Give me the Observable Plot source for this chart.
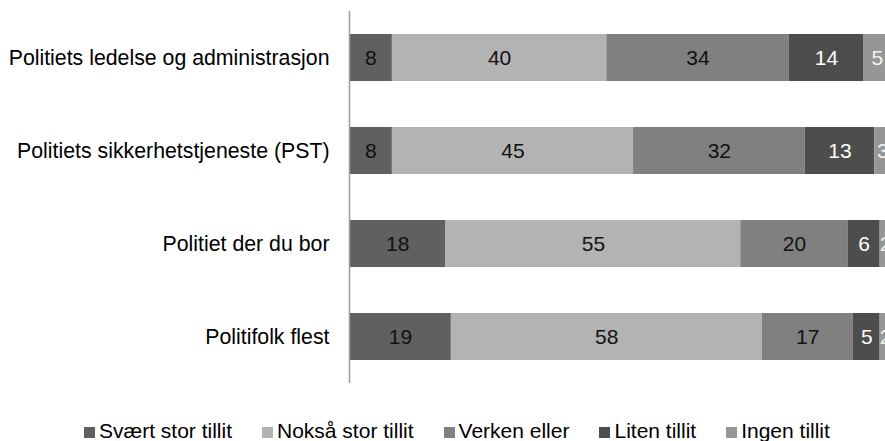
<!DOCTYPE html>
<html>
<head>
<meta charset="utf-8">
<script src="https://cdn.jsdelivr.net/npm/d3@7"></script>
<script src="https://cdn.jsdelivr.net/npm/@observablehq/plot@0.6"></script>
<style>
  html, body { margin: 0; padding: 0; background: #fff; }
  body { width: 885px; height: 441px; overflow: hidden; font-family: "Liberation Sans", Arial, sans-serif; }
  #legend { display: flex; align-items: center; height: 41px; box-sizing: border-box; padding-left: 84px; padding-top: 20px; font-size: 21px; line-height: 24px; color: #000; }
  #legend .item { display: flex; align-items: center; margin-right: 30px; white-space: nowrap; }
  #legend .sw { width: 11px; height: 11px; margin-right: 4px; position: relative; top: 2px; }
</style>
</head>
<body>
<div id="chart"></div>
<div id="legend"></div>
<script>
const categories = [
  "Politiets ledelse og administrasjon",
  "Politiets sikkerhetstjeneste (PST)",
  "Politiet der du bor",
  "Politifolk flest"
];
const series = ["Svært stor tillit", "Nokså stor tillit", "Verken eller", "Liten tillit", "Ingen tillit"];
const svaertStor = [8, 8, 18, 19];
const noksaStor  = [40, 45, 55, 58];
const verkenEller = [34, 32, 20, 17];
const liten = [14, 13, 6, 5];
const ingen = [5, 3, 2, 2];
const colors = ["#606060", "#b3b3b3", "#808080", "#4d4d4d", "#969696"];
const labelColors = ["#111", "#111", "#111", "#fff", "#f2f2f2"];

const valueArrays = [svaertStor, noksaStor, verkenEller, liten, ingen];
const data = [];
series.forEach((s, si) => {
  categories.forEach((c, ci) => {
    data.push({category: c, series: s, value: valueArrays[si][ci], si});
  });
});

const chart = Plot.plot({
  width: 885,
  height: 400,
  marginLeft: 349,
  marginRight: 0,
  marginTop: 11,
  marginBottom: 17,
  style: {fontFamily: '"Liberation Sans", Arial, sans-serif', fontSize: "21.3px", background: "#fff", color: "#000"},
  x: {domain: [0, 100], axis: null},
  y: {domain: categories, paddingInner: 0.49, paddingOuter: 0.245, label: null, tickSize: 0, tickPadding: 20},
  color: {domain: series, range: colors},
  marks: [
    Plot.barX(data, Plot.stackX({x: "value", y: "category", fill: "series", z: "series", order: null, clip: true})),
    Plot.text(data, Plot.stackX({x: "value", y: "category", z: "series", order: null, text: d => String(d.value), fill: d => labelColors[d.si], fontSize: 21})),
    Plot.ruleX([0], {stroke: "#9a9a9a", strokeWidth: 1.5})
  ]
});
document.getElementById("chart").appendChild(chart);

const legend = document.getElementById("legend");
series.forEach((s, i) => {
  const item = document.createElement("div");
  item.className = "item";
  const sw = document.createElement("span");
  sw.className = "sw";
  sw.style.background = colors[i];
  const t = document.createElement("span");
  t.textContent = s;
  item.appendChild(sw);
  item.appendChild(t);
  legend.appendChild(item);
});
</script>
</body>
</html>
